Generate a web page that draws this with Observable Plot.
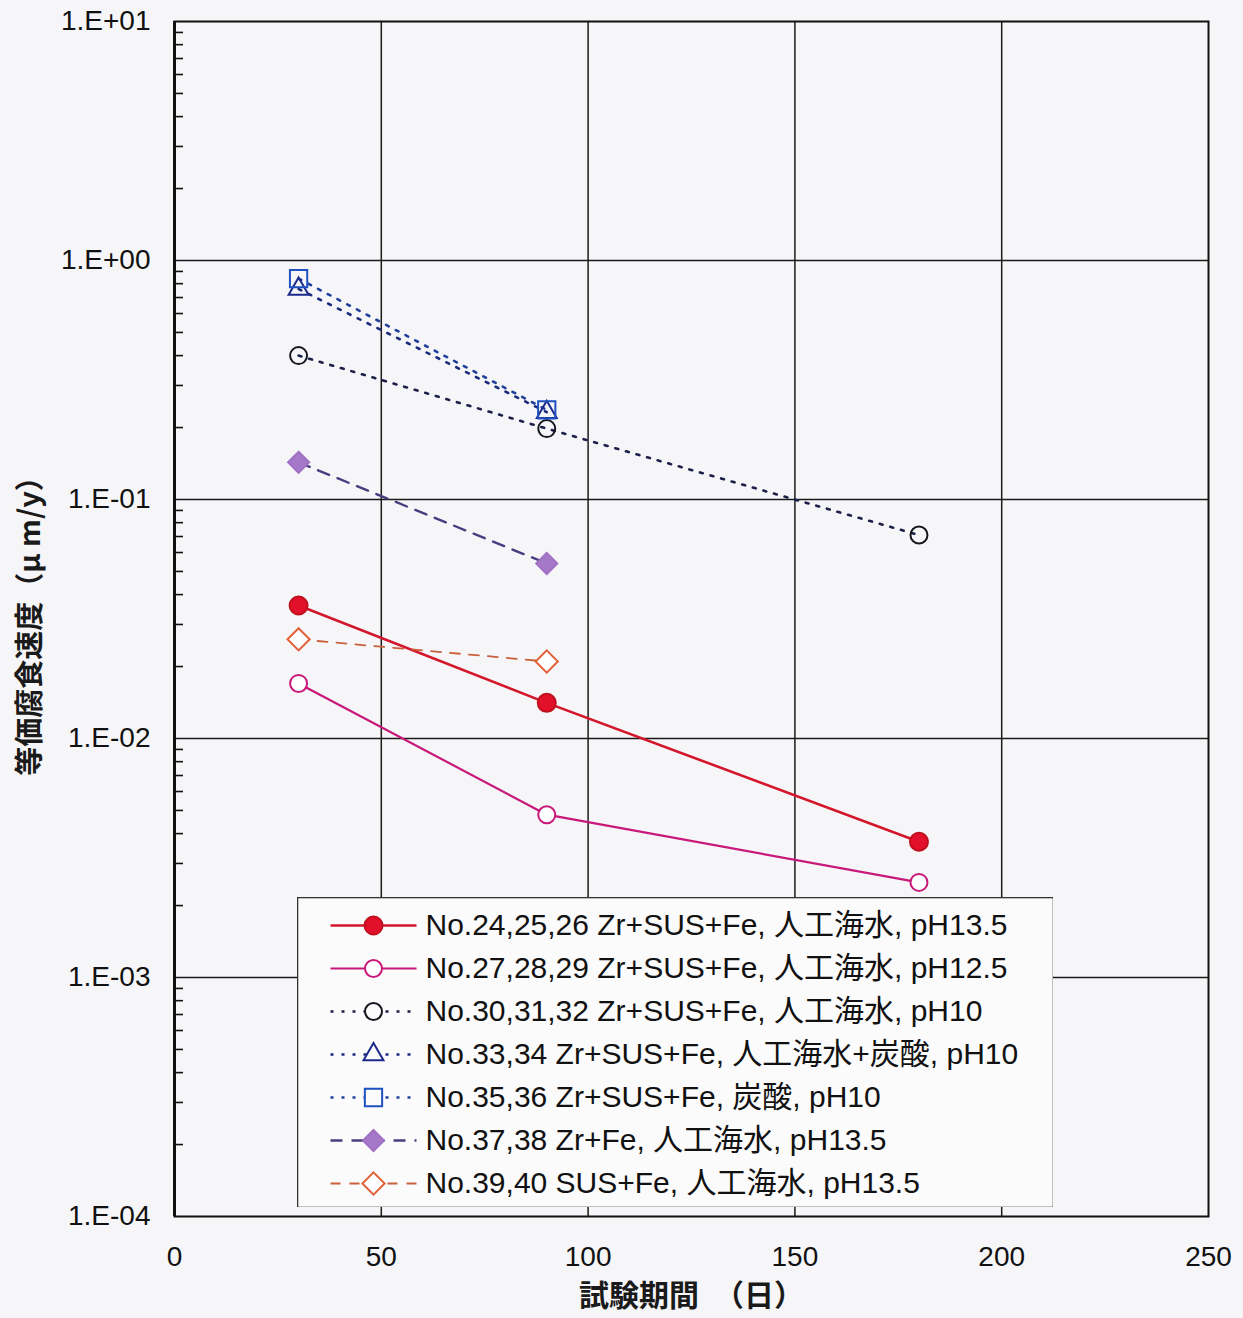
<!DOCTYPE html>
<html><head><meta charset="utf-8">
<script src="https://cdn.jsdelivr.net/npm/d3@7"></script>
<script src="https://cdn.jsdelivr.net/npm/@observablehq/plot@0.6"></script>
<style>
html,body{margin:0;padding:0;background:#f6f6f8;}
#wrap{position:relative;width:1243px;height:1318px;}
#legend{position:absolute;left:297px;top:897px;}
</style></head><body><div id="wrap"><div id="chart"></div><div id="legend"></div></div>
<script>
// ---- data ----
const daysLong = [30, 90, 180];
const daysShort = [30, 90];
const labels = [
  "No.24,25,26 Zr+SUS+Fe, 人工海水, pH13.5",
  "No.27,28,29 Zr+SUS+Fe, 人工海水, pH12.5",
  "No.30,31,32 Zr+SUS+Fe, 人工海水, pH10",
  "No.33,34 Zr+SUS+Fe, 人工海水+炭酸, pH10",
  "No.35,36 Zr+SUS+Fe, 炭酸, pH10",
  "No.37,38 Zr+Fe, 人工海水, pH13.5",
  "No.39,40 SUS+Fe, 人工海水, pH13.5"
];
const v24 = [0.036, 0.0141, 0.0037];
const v27 = [0.017, 0.0048, 0.0025];
const v30 = [0.40, 0.198, 0.071];
const v33 = [0.76, 0.232];
const v35 = [0.84, 0.237];
const v37 = [0.143, 0.054];
const v39 = [0.026, 0.021];
const yTicks = [1e-4, 1e-3, 1e-2, 1e-1, 1, 10];
const yTickLabels = ["1.E-04", "1.E-03", "1.E-02", "1.E-01", "1.E+00", "1.E+01"];
const xTicks = [0, 50, 100, 150, 200, 250];
const xTitle = "試験期間　（日）";
const yTitle = "等価腐食速度（μ m/y）";

// ---- styles ----
const series = [
  {label: labels[0], days: daysLong, values: v24, line: "#d4162a", width: 2.6, dash: null, symbol: "circle", r: 9, fill: "#e3102c", stroke: "#c0101e"},
  {label: labels[1], days: daysLong, values: v27, line: "#c8187a", width: 2.2, dash: null, symbol: "circle", r: 8.5, fill: "#ffffff", stroke: "#c8187a"},
  {label: labels[2], days: daysLong, values: v30, line: "#1c2048", width: 2.6, dash: "3,8", symbol: "circle", r: 8.5, fill: "none", stroke: "#16161e"},
  {label: labels[3], days: daysShort, values: v33, line: "#1c2a7c", width: 2.6, dash: "3,8", symbol: "triangle2", r: 9.5, fill: "none", stroke: "#1c2a8c"},
  {label: labels[4], days: daysShort, values: v35, line: "#20409c", width: 2.6, dash: "3,8", symbol: "square2", r: 11, fill: "none", stroke: "#1f52c0"},
  {label: labels[5], days: daysShort, values: v37, line: "#4a3c80", width: 2.4, dash: "12,9", symbol: "diamond2", r: 9.5, fill: "#a678c8", stroke: "#a070c4"},
  {label: labels[6], days: daysShort, values: v39, line: "#c8603c", width: 1.8, dash: "10,9", symbol: "diamond2", r: 10, fill: "#ffffff", stroke: "#e0603a"}
];
const minorTicks = yTicks.slice(0, -1).flatMap(d => [2,3,4,5,6,7,8,9].map(k => d * k));
const fontMain = "'Liberation Sans', Arial, 'Noto Sans CJK JP', sans-serif";

const pts = s => s.days.map((d, i) => ({day: d, v: s.values[i]}));

const marks = [
  Plot.gridX(xTicks.slice(1, -1), {stroke: "#1a1a1a", strokeOpacity: 1, strokeWidth: 1.5}),
  Plot.gridY(yTicks.slice(1, -1), {stroke: "#1a1a1a", strokeOpacity: 1, strokeWidth: 1.5}),
  Plot.axisY(minorTicks, {anchor: "left", tickSize: -9, tickFormat: () => "", label: null, stroke: "#111", strokeWidth: 1.6}),
  Plot.axisY(yTicks, {anchor: "left", tickSize: 0, tickPadding: 24, tickFormat: d => yTickLabels[yTicks.indexOf(d)], fontSize: 28, fill: "#111", label: null}),
  Plot.axisX(xTicks, {anchor: "bottom", tickSize: 0, tickPadding: 30, fontSize: 28, fill: "#111", label: null})
];
for (const s of series) {
  marks.push(Plot.line(pts(s), {x: "day", y: "v", stroke: s.line, strokeWidth: s.width, strokeDasharray: s.dash || undefined, strokeLinecap: "round"}));
}
for (const s of series) {
  marks.push(Plot.dot(pts(s), {x: "day", y: "v", symbol: () => s.symbol, r: s.r, fill: s.fill, stroke: s.stroke, strokeWidth: 2}));
}
marks.push(
  Plot.frame({stroke: "#111", strokeWidth: 2}),
  Plot.ruleX([0], {stroke: "#111", strokeWidth: 3}),
  Plot.text([xTitle], {frameAnchor: "bottom", dy: 80, textAnchor: "middle", lineAnchor: "middle", text: d => d, fontSize: 30, fontWeight: "bold", fill: "#1a1a1a", fontFamily: "'Noto Sans CJK JP', sans-serif"}),
  Plot.text([yTitle], {frameAnchor: "left", dx: -144, rotate: -90, textAnchor: "middle", lineAnchor: "middle", text: d => d, fontSize: 29, fontWeight: "bold", fill: "#1a1a1a", fontFamily: "'Noto Sans CJK JP', sans-serif"})
);

const chart = Plot.plot({
  width: 1243, height: 1318,
  marginLeft: 174, marginRight: 35, marginTop: 21, marginBottom: 102,
  style: {background: "transparent", fontFamily: fontMain},
  x: {domain: [0, 250]},
  y: {type: "log", domain: [1e-4, 10]},
  symbol: {type: "identity"},
  marks
});
document.getElementById("chart").append(chart);

// ---- legend ----
const lmarks = [Plot.frame({fill: "#fbfbfc", stroke: "#333", strokeWidth: 1.6})];
for (const s of series) {
  lmarks.push(Plot.link([s], {x1: () => 0, x2: () => 1, y1: d => d.label, y2: d => d.label, stroke: s.line, strokeWidth: s.width, strokeDasharray: s.dash || undefined}));
  lmarks.push(Plot.dot([s], {x: () => 0.5, y: d => d.label, symbol: () => s.symbol, r: s.r, fill: s.fill === "none" ? "#fbfbfc" : s.fill, stroke: s.stroke, strokeWidth: 2}));
}
lmarks.push(Plot.text(series, {x: () => 1, y: d => d.label, text: d => d.label, textAnchor: "start", dx: 9, fontSize: 30, fill: "#111"}));
const legend = Plot.plot({
  width: 756, height: 310,
  margin: 0,
  style: {background: "transparent", fontFamily: fontMain},
  x: {domain: [0, 1], range: [33, 119], axis: null},
  y: {type: "point", domain: labels, range: [25, 288], padding: 0, axis: null},
  symbol: {type: "identity"},
  marks: lmarks
});
document.getElementById("legend").append(legend);
</script></body></html>
